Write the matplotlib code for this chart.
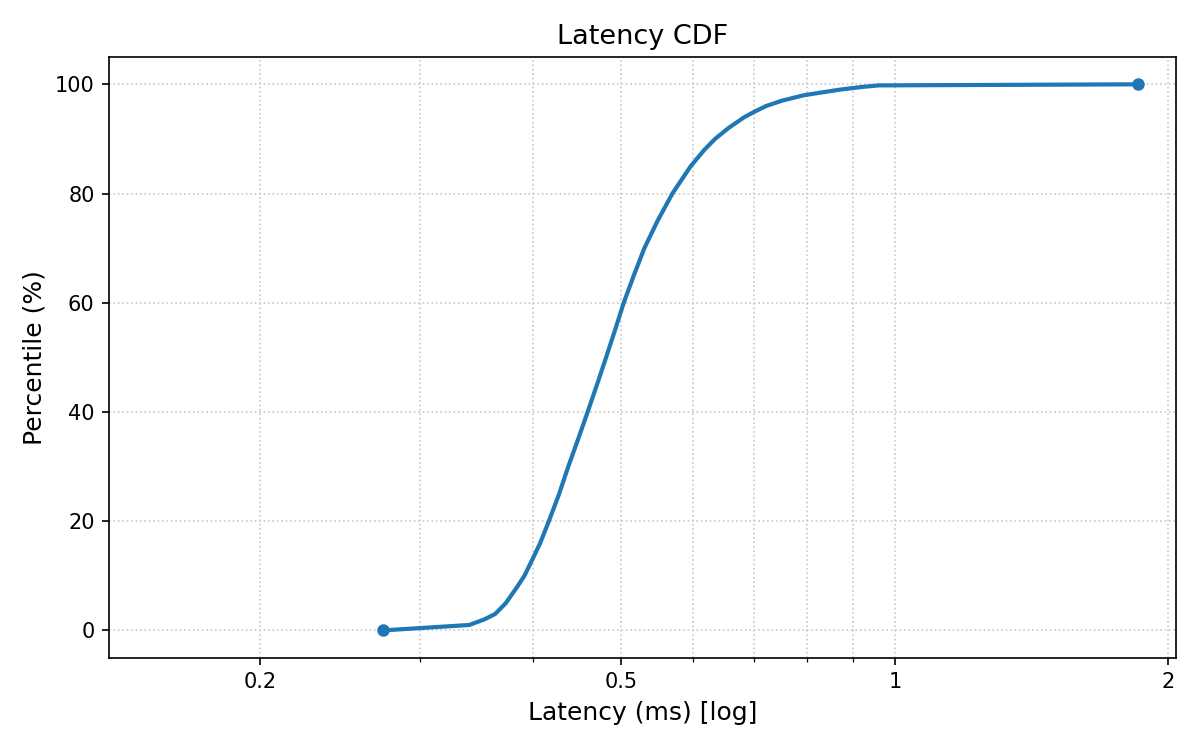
import matplotlib
matplotlib.use("Agg")
import matplotlib.pyplot as plt
from matplotlib.ticker import NullFormatter

# percentile -> latency (ms)
percentiles = [0, 1, 2, 3, 5, 8, 10, 13, 16, 20, 25, 30, 35, 40, 45, 50, 55, 60,
               65, 70, 75, 80, 85, 88, 90, 92, 94, 95, 96, 97, 98, 99, 99.5, 99.8, 100]
latency_ms = [0.273, 0.340, 0.353, 0.363, 0.373, 0.384, 0.391, 0.399, 0.407, 0.416,
              0.427, 0.437, 0.448, 0.459, 0.470, 0.481, 0.492, 0.503, 0.516, 0.530,
              0.548, 0.569, 0.596, 0.617, 0.634, 0.656, 0.683, 0.701, 0.721, 0.751,
              0.794, 0.868, 0.918, 0.960, 1.854]

xticks = [0.2, 0.5, 1, 2]
xtick_labels = ["0.2", "0.5", "1", "2"]

fig, ax = plt.subplots(figsize=(8, 5), dpi=150)
ax.plot(latency_ms, percentiles, color="tab:blue", linewidth=2,
        marker="o", markersize=5, markevery=[0, len(latency_ms) - 1])
ax.set_xscale("log")
ax.set_xlim(min(latency_ms) * 0.5, max(latency_ms) * 1.1)
ax.set_xticks(xticks)
ax.set_xticklabels(xtick_labels)
ax.xaxis.set_minor_formatter(NullFormatter())
ax.grid(True, which="both", linestyle=":", color="#c8c8c8", linewidth=0.8)
ax.tick_params(labelsize=10)
ax.set_title("Latency CDF", fontsize=13)
ax.set_xlabel("Latency (ms) [log]", fontsize=12)
ax.set_ylabel("Percentile (%)", fontsize=12)
plt.subplots_adjust(left=0.091, right=0.98, bottom=0.123, top=0.924)
plt.savefig("out.png")
